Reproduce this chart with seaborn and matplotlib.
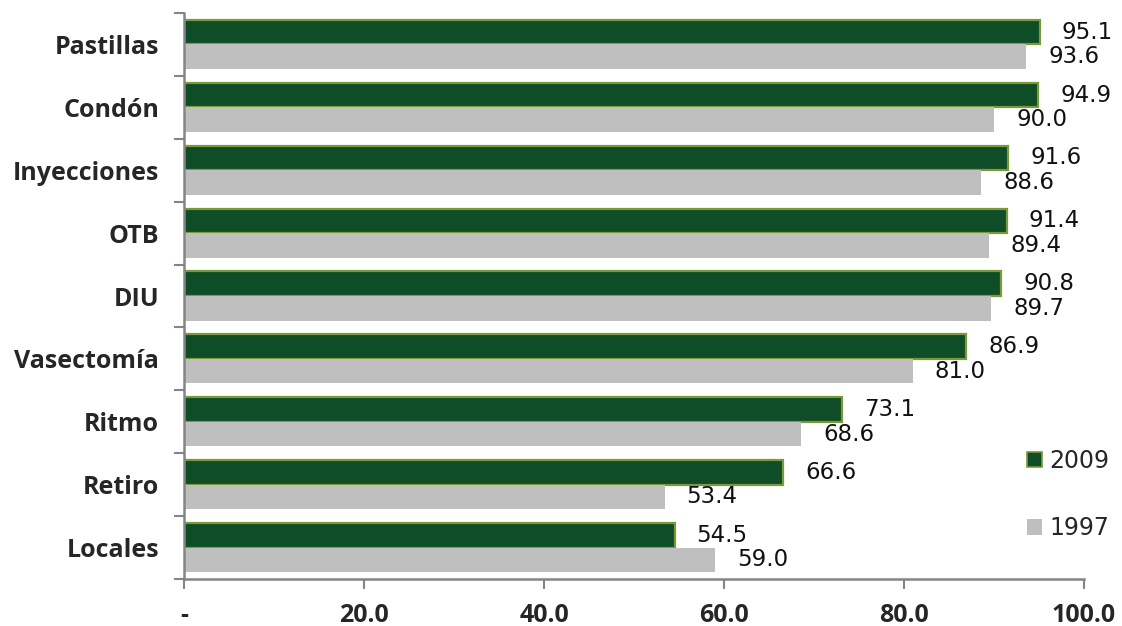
import matplotlib
matplotlib.use("Agg")
import matplotlib.pyplot as plt
import seaborn as sns
import pandas as pd
from matplotlib.patches import Patch

# Data
methods = ["Pastillas", "Condón", "Inyecciones", "OTB", "DIU",
           "Vasectomía", "Ritmo", "Retiro", "Locales"]
values_2009 = [95.1, 94.9, 91.6, 91.4, 90.8, 86.9, 73.1, 66.6, 54.5]
values_1997 = [93.6, 90.0, 88.6, 89.4, 89.7, 81.0, 68.6, 53.4, 59.0]
years = ["2009", "1997"]
x_ticks = [0, 20, 40, 60, 80, 100]
x_tick_labels = ["-", "20.0", "40.0", "60.0", "80.0", "100.0"]

GREEN = "#0F4C28"
GREEN_EDGE = "#7A9A3A"
GRAY = "#BFBFBF"
AXIS_GRAY = "#858585"
BOLD_FONT = ["Open Sans", "DejaVu Sans"]
PLAIN_FONT = ["DejaVu Sans"]

df = pd.DataFrame({
    "method": methods * 2,
    "value": values_2009 + values_1997,
    "year": [years[0]] * len(methods) + [years[1]] * len(methods),
})

sns.set_theme(style="white")
plt.rcParams["font.family"] = PLAIN_FONT

fig = plt.figure(figsize=(11.22, 6.26), dpi=100)
ax = fig.add_axes([184 / 1122, 1 - 579 / 626, 900 / 1122, 566 / 626])

sns.barplot(data=df, x="value", y="method", hue="year", hue_order=years,
            order=methods, palette=[GREEN, GRAY], orient="h", width=0.78,
            saturation=1, legend=False, ax=ax)

# Outline on the 2009 bars
for cont, year in zip(ax.containers, years):
    for bar in cont:
        if year == "2009":
            bar.set_edgecolor(GREEN_EDGE)
            bar.set_linewidth(1.6)
        else:
            bar.set_edgecolor("none")

# Value labels
for cont, vals in zip(ax.containers, [values_2009, values_1997]):
    for bar, v in zip(cont, vals):
        yc = bar.get_y() + bar.get_height() / 2
        ax.annotate(f"{v:.1f}", xy=(v, yc), xytext=(22, 0),
                    textcoords="offset pixels", ha="left", va="center",
                    fontsize=16.5, color="#111111", family=PLAIN_FONT,
                    clip_on=False)

ax.set_xlim(0, 100)
ax.set_ylim(len(methods) - 0.5, -0.5)
ax.set_xlabel("")
ax.set_ylabel("")

ax.set_xticks(x_ticks)
ax.set_xticklabels(x_tick_labels, fontsize=18, fontweight="bold",
                   family=BOLD_FONT)
ax.tick_params(axis="x", direction="out", length=7, width=1.5,
               color=AXIS_GRAY, pad=10, bottom=True)

# Category labels at centres, tick marks at category boundaries
ax.set_yticks(range(len(methods)))
ax.set_yticklabels(methods, fontsize=18, fontweight="bold",
                   family=BOLD_FONT)
ax.tick_params(axis="y", which="major", length=0, pad=18)
ax.set_yticks([i - 0.5 for i in range(len(methods) + 1)], minor=True)
ax.tick_params(axis="y", which="minor", direction="out", length=7,
               width=1.5, color=AXIS_GRAY, left=True)

for side in ["top", "right"]:
    ax.spines[side].set_visible(False)
for side in ["left", "bottom"]:
    ax.spines[side].set_color(AXIS_GRAY)
    ax.spines[side].set_linewidth(1.8)

handles = [Patch(facecolor=GREEN, edgecolor=GREEN_EDGE, linewidth=1.2),
           Patch(facecolor=GRAY, edgecolor="none")]
fig.legend(handles, years, loc="upper left",
           bbox_to_anchor=(1015 / 1122, 1 - 437 / 626), frameon=False,
           handlelength=0.65, handleheight=0.65,
           handletextpad=0.3, labelspacing=1.85, borderpad=0,
           prop={"family": PLAIN_FONT, "size": 17})

fig.savefig("out.png", dpi=100)
